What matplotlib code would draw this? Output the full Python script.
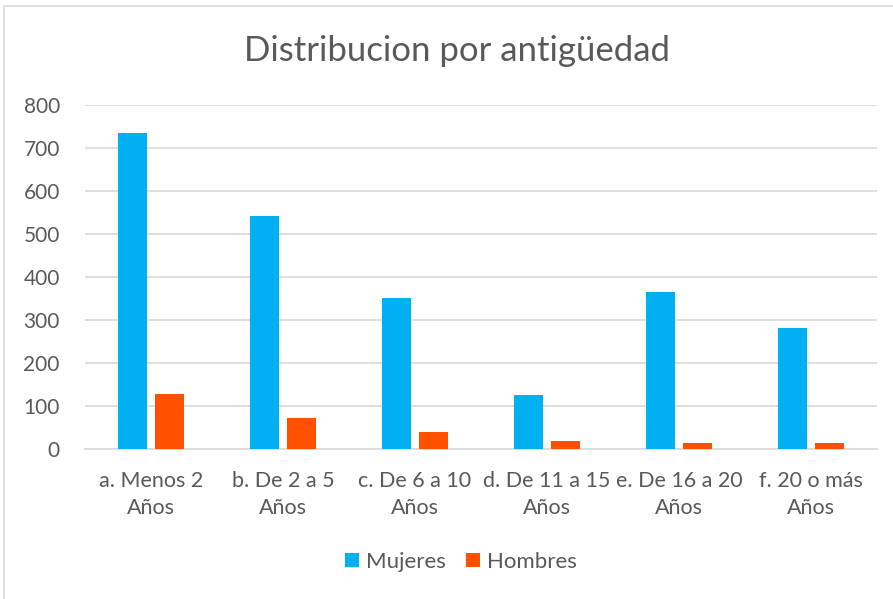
import matplotlib.pyplot as plt
import numpy as np
from matplotlib.patches import Rectangle

plt.rcParams['font.family'] = ['Lato', 'DejaVu Sans']

categorias = ['a. Menos 2\nAños', 'b. De 2 a 5\nAños', 'c. De 6 a 10\nAños',
              'd. De 11 a 15\nAños', 'e. De 16 a 20\nAños', 'f. 20 o más\nAños']
mujeres = [735, 541, 352, 125, 366, 281]
hombres = [128, 71, 40, 18, 13, 13]

txt = '#595959'
fig = plt.figure(figsize=(8.93, 5.99), dpi=100)
ax = fig.add_axes([0.095, 0.2504, 0.887, 0.5743])

x = np.arange(len(categorias))
w = 0.22
ax.bar(x - 0.14, mujeres, w, color='#00B0F0', label='Mujeres', zorder=3)
ax.bar(x + 0.14, hombres, w, color='#FF5000', label='Hombres', zorder=3)

ax.set_xlim(-0.5, len(categorias) - 0.5)
ax.set_ylim(0, 800)
ax.set_yticks(range(0, 801, 100))
ax.grid(axis='y', color='#D9D9D9', linewidth=1.2, zorder=0)
for s in ['top', 'right', 'left']:
    ax.spines[s].set_visible(False)
ax.spines['bottom'].set_color('#D9D9D9')
ax.spines['bottom'].set_linewidth(1.2)
ax.tick_params(length=0, labelsize=15.5, labelcolor=txt)
ax.tick_params(axis='x', pad=16)
ax.tick_params(axis='y', pad=18, labelsize=15)
ax.set_xticks(x)
ax.set_xticklabels(categorias, linespacing=1.4)

fig.text(0.512, 0.915, 'Distribucion por antigüedad', ha='center', va='center',
         fontsize=25, color=txt)
ax.legend(loc='center', bbox_to_anchor=(0.516, 0.062), bbox_transform=fig.transFigure,
          ncol=2, frameon=False, fontsize=16, labelcolor=txt, handlelength=0.65,
          handleheight=0.65, handletextpad=0.3, columnspacing=0.9)

fig.patches.append(Rectangle((4 / 893, -0.01), 1.0, 1 - 6 / 599 + 0.01,
                             transform=fig.transFigure, fill=False,
                             edgecolor='#D9D9D9', linewidth=1.2))

fig.savefig('out.png', dpi=100)
